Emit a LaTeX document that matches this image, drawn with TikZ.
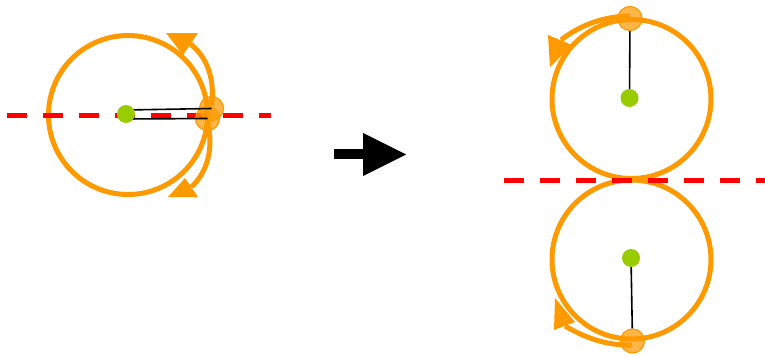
\documentclass[tikz,border=0pt]{standalone}
\usetikzlibrary{calc}
\definecolor{ringorange}{RGB}{255,153,0}
\definecolor{bobgreen}{RGB}{153,204,0}
\definecolor{axisred}{RGB}{255,0,0}
\tikzset{
  ring/.style={circle,draw=ringorange,line width=5pt,minimum size=159pt,inner sep=0pt},
  track/.style={draw=ringorange,line width=5pt},
  tiphead/.style={fill=ringorange},
  axis/.style={draw=axisred,line width=5pt,dash pattern=on 20pt off 16pt},
  rod/.style={draw=black,line width=1.6pt},
  pivot/.style={circle,fill=bobgreen,minimum size=18pt,inner sep=0pt},
  bob/.style={circle,draw=ringorange,line width=1.2pt,fill=ringorange,fill opacity=0.72,minimum size=24pt,inner sep=0pt},
}
\begin{document}
\begin{tikzpicture}[x=1pt,y=-1pt]
\useasboundingbox (0,0) rectangle (765,356);

% --- left: the two bobs meeting on the axis ---
\node[ring] (ringL) at (128,115) {};
\coordinate (aL1) at (211.5,106);
\coordinate (aL1e) at (190.5,44);
\coordinate (aL2) at (207.5,121);
\coordinate (aL2e) at (191.5,187);
\draw[track] (aL1) .. controls (215,80) and (208,58) .. (aL1e);
\draw[track] (aL2) .. controls (214,150) and (207,172) .. (aL2e);
\fill[tiphead] (166,33) -- (198,33) -- (183,55) -- cycle;
\fill[tiphead] (168,197) -- (198,197) -- (185,178) -- cycle;

% --- right: upper and lower rings touching the axis ---
\node[ring] (ringT) at (631.5,99) {};
\node[ring] (ringB) at (631.5,259.5) {};
\coordinate (aT) at (630,16);
\coordinate (aTe) at (561,40);
\coordinate (aB) at (632,345);
\coordinate (aBe) at (565,326);
\draw[track] (aT) .. controls (605,16) and (580,25) .. (aTe);
\draw[track] (aB) .. controls (605,346) and (582,336) .. (aBe);
\fill[tiphead] (548,35) -- (572,45) -- (550,67) -- cycle;
\fill[tiphead] (555,298) -- (575,322) -- (554,330) -- cycle;

% --- dashed axes ---
\coordinate (axL0) at (7,115);
\coordinate (axL1) at (271,115);
\coordinate (axR0) at (504,180);
\coordinate (axR1) at (765,180);
\draw[axis] (axL0) -- (axL1);
\draw[axis] (axR0) -- (axR1);

% --- rods ---
\coordinate (rL1) at (126,110);
\coordinate (rL2) at (126,119);
\node[bob] (bL1) at (211.5,108.5) {};
\node[bob] (bL2) at (207.5,118.5) {};
\draw[rod] (rL1) -- (bL1.center);
\draw[rod] (rL2) -- (bL2.center);
\node[pivot] (pL) at (126,114) {};

\node[pivot] (pT) at (629.5,98) {};
\node[pivot] (pB) at (631,258) {};
\node[bob] (bT) at (630,18.5) {};
\node[bob] (bB) at (632.5,341) {};
\draw[rod] (pT) -- (bT);
\draw[rod] (pB) -- (bB);

% --- transition arrow ---
\coordinate (sh0) at (334,154);
\coordinate (sh1) at (365,154);
\draw[line width=10pt] (sh0) -- (sh1);
\fill (363,133) -- (406,154.5) -- (363,176) -- cycle;
\end{tikzpicture}
\end{document}
